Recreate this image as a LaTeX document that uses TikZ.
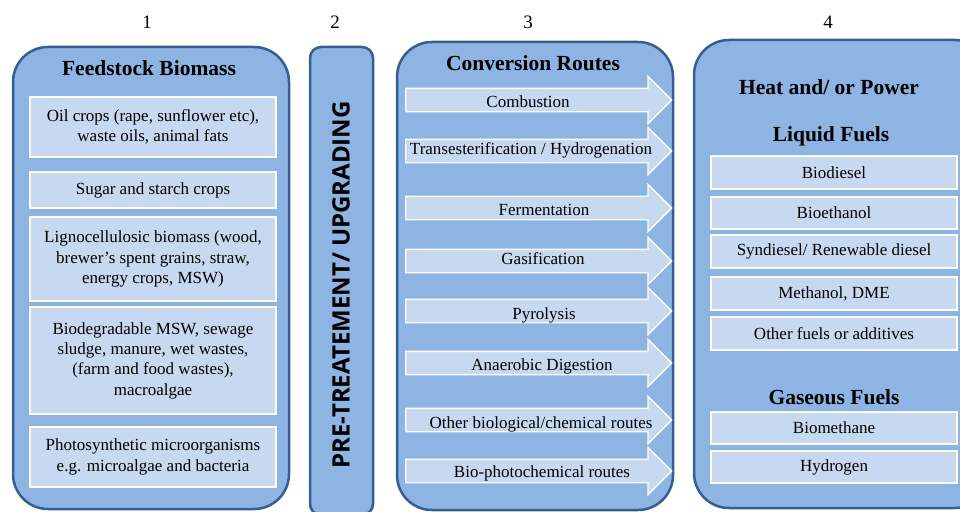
\documentclass[tikz,border=0pt]{standalone}
\usepackage{fontspec}
\setmainfont{Liberation Serif}
\newfontfamily\pretreatfont{Open Sans}
\usetikzlibrary{shapes.arrows}
\definecolor{colfill}{RGB}{141,180,226}
\definecolor{colborder}{RGB}{54,95,145}
\definecolor{itemfill}{RGB}{198,217,241}

\begin{document}
\begin{tikzpicture}[x=1pt, y=-1pt,
	column/.style={draw=colborder, fill=colfill, line width=2.5pt, rounded corners=35pt},
	itembox/.style={draw=white, fill=itemfill, line width=1.3pt, align=center, inner sep=1pt, minimum width=246pt, font=\fontsize{17}{20.3}\selectfont},
	routearrow/.style={single arrow, draw=white, fill=itemfill, line width=1.3pt, minimum width=46pt, single arrow head extend=12pt, minimum height=266pt, inner xsep=0pt, inner ysep=11pt, anchor=tail},
	routelabel/.style={font=\fontsize{17}{20}\selectfont, inner sep=0pt},
	heading/.style={font=\bfseries\fontsize{21.5}{24}\selectfont},
	colnum/.style={font=\fontsize{19}{22}\selectfont}]
	\useasboundingbox (0,0) rectangle (960,511);
	\clip (0,0) rectangle (960,511);

	\node[colnum] (n1) at (147,22) {1};
	\node[colnum] (n2) at (335,22) {2};
	\node[colnum] (n3) at (528,22) {3};
	\node[colnum] (n4) at (828,22) {4};

	\draw[column] (13,47) rectangle (289,509);
	\draw[column, rounded corners=11pt] (310,47) rectangle (373,515);
	\draw[column] (397,42) rectangle (673,510);
	\draw[column] (694,40) rectangle (990,508);

	\node[heading] (feed) at (149,68) {Feedstock Biomass};
	\node[itembox, minimum height=60pt] (oil) at (153,127) {Oil crops (rape, sunflower etc),\\ waste oils, animal fats};
	\node[itembox, minimum height=36pt] (sugar) at (153,190) {Sugar and starch crops};
	\node[itembox, minimum height=84pt] (ligno) at (153,259) {Lignocellulosic biomass (wood,\\ brewer’s spent grains, straw,\\ energy crops, MSW)};
	\node[itembox, minimum height=107pt] (biodeg) at (153,360.5) {Biodegradable MSW, sewage\\ sludge, manure, wet wastes,\\ (farm and food wastes),\\ macroalgae};
	\node[itembox, minimum height=60pt] (photo) at (153,457) {Photosynthetic microorganisms\\ e.g. microalgae and bacteria};

	\node[rotate=90, font=\pretreatfont\bfseries\fontsize{24}{27}\selectfont] (pretreat) at (341,285) {PRE-TREATEMENT/ UPGRADING};

	\node[heading] (conv) at (533,63) {Conversion Routes};
	\node[routearrow] (comb) at (405,100) {};
	\node[routearrow] (trans) at (405,151) {};
	\node[routearrow] (ferm) at (405,208) {};
	\node[routearrow] (gasif) at (405,261) {};
	\node[routearrow] (pyro) at (405,311) {};
	\node[routearrow] (anaer) at (405,363) {};
	\node[routearrow] (other) at (405,420) {};
	\node[routearrow] (biophoto) at (405,471) {};
	\node[routelabel] (lcomb) at (528,102) {Combustion};
	\node[routelabel] (ltrans) at (531,150) {Transesterification / Hydrogenation};
	\node[routelabel] (lferm) at (544,210) {Fermentation};
	\node[routelabel] (lgasif) at (543,259) {Gasification};
	\node[routelabel] (lpyro) at (544,315) {Pyrolysis};
	\node[routelabel] (lanaer) at (542,366) {Anaerobic Digestion};
	\node[routelabel] (lother) at (541,424) {Other biological/chemical routes};
	\node[routelabel] (lbiophoto) at (542,473) {Bio-photochemical routes};

	\node[heading] (heat) at (829,87) {Heat and/ or Power};
	\node[heading] (liquid) at (831,136) {Liquid Fuels};
	\node[itembox, minimum height=33pt] (biodiesel) at (834,172.5) {Biodiesel};
	\node[itembox, minimum height=32pt] (bioeth) at (834,213) {Bioethanol};
	\node[itembox, minimum height=33pt] (syndiesel) at (834,251.5) {Syndiesel/ Renewable diesel};
	\node[itembox, minimum height=33pt] (methanol) at (834,293.5) {Methanol, DME};
	\node[itembox, minimum height=33pt] (otherfuel) at (834,333.5) {Other fuels or additives};
	\node[heading] (gaseous) at (834,397) {Gaseous Fuels};
	\node[itembox, minimum height=32pt] (biomethane) at (834,428) {Biomethane};
	\node[itembox, minimum height=32pt] (hydrogen) at (834,467) {Hydrogen};
\end{tikzpicture}
\end{document}
